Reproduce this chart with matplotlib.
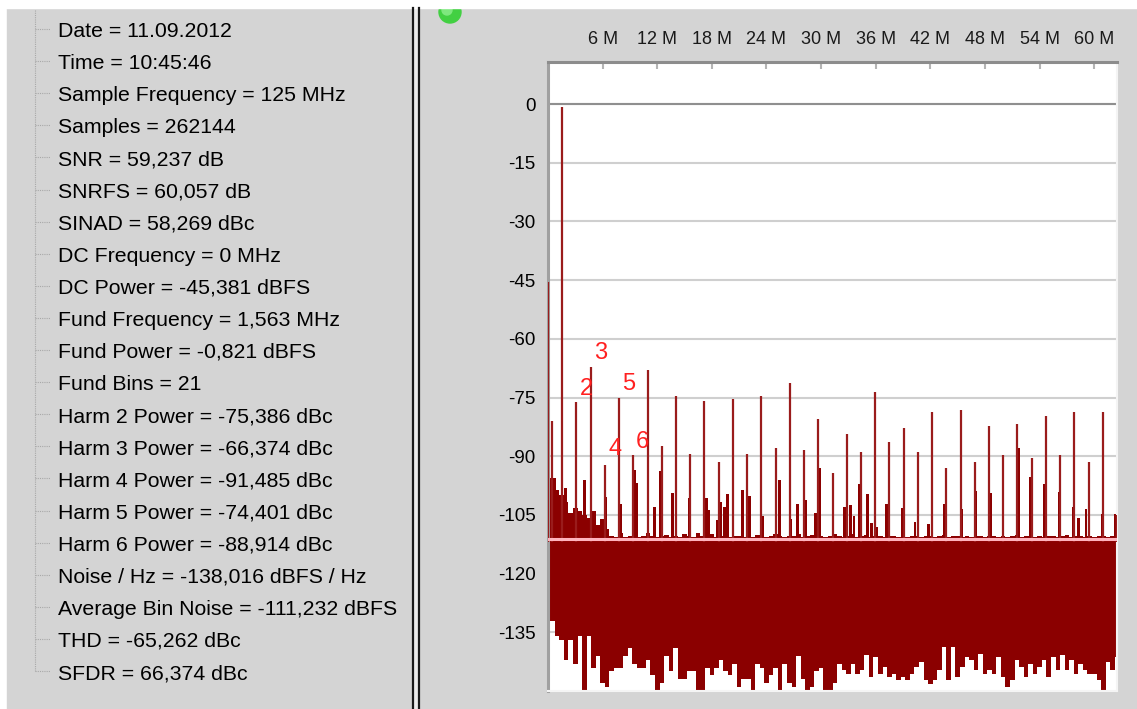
import matplotlib

matplotlib.use("Agg")
import matplotlib.pyplot as plt
import numpy as np
from matplotlib.patches import Circle, Rectangle

plt.rcParams["font.family"] = ["Liberation Sans", "DejaVu Sans"]

W, H = 1137, 709

# measurement summary shown in the tree view on the left
info_lines = [
    "Date = 11.09.2012",
    "Time = 10:45:46",
    "Sample Frequency = 125 MHz",
    "Samples = 262144",
    "SNR = 59,237 dB",
    "SNRFS = 60,057 dB",
    "SINAD = 58,269 dBc",
    "DC Frequency = 0 MHz",
    "DC Power = -45,381 dBFS",
    "Fund Frequency = 1,563 MHz",
    "Fund Power = -0,821 dBFS",
    "Fund Bins = 21",
    "Harm 2 Power = -75,386 dBc",
    "Harm 3 Power = -66,374 dBc",
    "Harm 4 Power = -91,485 dBc",
    "Harm 5 Power = -74,401 dBc",
    "Harm 6 Power = -88,914 dBc",
    "Noise / Hz = -138,016 dBFS / Hz",
    "Average Bin Noise = -111,232 dBFS",
    "THD = -65,262 dBc",
    "SFDR = 66,374 dBc",
]

tick_mhz = [6, 12, 18, 24, 30, 36, 42, 48, 54, 60]
tick_labels = ["6 M", "12 M", "18 M", "24 M", "30 M", "36 M", "42 M", "48 M", "54 M", "60 M"]
db_ticks = [0, -15, -30, -45, -60, -75, -90, -105, -120, -135]

avg_bin_noise_db = -111.232

# noise floor envelope, one value every 0.5 MHz from 0 to 62.5 MHz
grid_step_mhz = 0.5
floor_top_db = [
    -100.3, -95.6, -98.6, -99.9, -101.6, -104.6, -103.3, -104.0, -105.0, -105.8,
    -104.0, -107.5, -106.0, -108.5, -110.5, -110.6, -109.5, -110.6, -110.5, -109.8,
    -110.6, -110.5, -109.6, -110.4, -110.6, -110.5, -110.2, -110.6, -110.5, -110.6,
    -109.8, -110.5, -110.6, -109.7, -110.5, -110.4, -109.8, -110.6, -110.5, -110.2,
    -110.6, -110.5, -110.3, -110.6, -110.5, -110.6, -110.2, -110.5, -110.6, -110.4,
    -109.9, -110.5, -110.6, -110.4, -110.5, -109.8, -110.6, -110.5, -110.2, -110.6,
    -110.5, -110.6, -110.5, -109.9, -110.4, -110.6, -110.5, -109.8, -110.6, -110.5,
    -110.2, -110.6, -110.5, -110.4, -110.6, -110.5, -110.3, -110.6, -110.5, -110.6,
    -110.4, -110.5, -110.6, -110.3, -110.5, -110.6, -110.5, -110.2, -110.6, -110.5,
    -110.4, -110.6, -110.5, -110.6, -110.3, -110.5, -110.6, -110.5, -110.4, -110.6,
    -110.5, -110.6, -110.5, -110.2, -110.6, -110.5, -110.4, -110.6, -110.5, -110.6,
    -110.3, -110.5, -110.6, -110.5, -110.2, -110.6, -110.5, -110.4, -110.6, -110.5,
    -110.6, -110.5, -110.4, -110.6, -110.5, -110.6,
]
floor_bottom_db = [
    -132, -132, -136, -137, -142, -137, -143, -136, -150, -136,
    -144, -141, -148, -149, -145, -144, -144, -141, -139, -143,
    -144, -144, -142, -146, -150, -148, -141, -145, -139, -147,
    -147, -145, -145, -150, -150, -144, -146, -144, -142, -145,
    -146, -143, -149, -147, -147, -150, -143, -144, -148, -146,
    -144, -150, -143, -148, -149, -141, -147, -150, -149, -145,
    -144, -150, -150, -148, -143,
    -144.7, -145.6, -143.0, -145.6, -144.7, -140.9, -146.5, -141.3, -145.6, -143.9,
    -146.5, -145.6, -147.3, -146.5, -147.3, -145.6, -143.9, -142.6, -147.3, -148.2,
    -147.3, -144.7, -138.8, -147.3, -138.8, -146.5, -143.9, -141.3, -142.2, -144.7,
    -140.5, -145.6, -144.7, -145.6, -141.3, -146.5, -149.0, -147.3, -142.2, -143.9,
    -146.5, -143.0, -145.6, -143.9, -142.2, -146.5, -141.3, -144.7, -140.9, -144.7,
    -142.2, -145.6, -143.0, -144.7, -145.6, -145.6, -147.3, -150.0, -142.6, -144.7,
    -141.3,
]

# DC, fundamental, harmonics (aliased above Nyquist) and one low spur
spur_mhz = [
    0.05, 0.49, 1.56, 3.13, 4.69, 6.25, 7.81, 9.38, 10.94, 12.50,
    14.06, 15.63, 17.19, 18.75, 20.31, 21.88, 23.44, 25.00, 26.56, 28.13,
    29.69, 31.25, 32.81, 34.38, 35.94, 37.50, 39.06, 40.63, 42.19, 43.75,
    45.31, 46.88, 48.44, 50.00, 51.56, 53.13, 54.69, 56.25, 57.81, 59.38,
    60.94, 62.45,
]
spur_db = [
    -45.4, -81.0, -0.8, -76.2, -67.2, -92.3, -75.2, -89.7, -68.0, -87.5,
    -74.5, -89.4, -75.9, -91.4, -75.5, -89.4, -74.5, -87.9, -71.4, -88.3,
    -80.6, -94.3, -84.2, -88.9, -73.5, -86.4, -82.8, -88.9, -78.7, -93.0,
    -78.2, -91.5, -82.3, -89.6, -81.7, -90.5, -79.8, -89.6, -78.7, -91.5,
    -78.7, -105.0,
]

# smaller bins sticking out of the noise floor next to the spurs
side_mhz = [
    0.70, 1.00, 1.96, 3.98, 6.37, 7.95, 9.55, 9.70, 11.70, 12.30,
    13.70, 15.50, 17.40, 17.65, 18.60, 19.00, 19.40, 19.70, 21.40, 22.10,
    23.60, 25.40, 26.70, 27.40, 28.25, 29.40, 29.80, 32.60, 33.20, 33.60,
    34.20, 35.10, 35.50, 36.10, 37.20, 38.90, 40.30, 41.80, 43.50, 45.40,
    46.95, 48.60, 51.65, 53.00, 54.50, 56.20, 57.70, 58.30, 59.10, 60.90,
    62.30,
]
side_db = [
    -95.6, -98.6, -98.2, -96.0, -100.3, -102.2, -93.5, -96.9, -102.9, -93.9,
    -99.3, -100.7, -100.7, -103.7, -106.3, -101.7, -103.0, -99.7, -98.6, -100.1,
    -105.4, -96.2, -106.0, -102.2, -101.2, -104.4, -93.0, -102.9, -102.4, -105.4,
    -97.1, -99.7, -107.1, -108.0, -102.2, -103.3, -106.8, -107.2, -102.2, -103.6,
    -99.0, -99.4, -87.9, -95.2, -97.1, -99.2, -102.9, -105.8, -103.6, -104.8,
    -104.8,
]

harm_labels = ["2", "3", "4", "5", "6"]
harm_label_mhz = [4.18, 5.78, 7.32, 8.86, 10.41]
harm_label_db = [-72.9, -63.7, -88.2, -71.6, -86.3]

PANEL = "#d4d4d4"
DARK_RED = "#8b0000"

fig = plt.figure(figsize=(W / 100, H / 100), dpi=100, facecolor="white")

# window chrome drawn in pixel coordinates
bg = fig.add_axes([0, 0, 1, 1])
bg.set_xlim(0, W)
bg.set_ylim(H, 0)
bg.axis("off")
bg.add_patch(Rectangle((7, 8), W - 7, H - 8, color=PANEL, zorder=0))
bg.add_patch(Circle((450, 12), 11, color="#42d042", zorder=1))
bg.add_patch(Circle((447, 10), 5, color="#7ee87e", zorder=1))
bg.add_patch(Rectangle((0, 0), W, 8, color="white", zorder=2))
bg.add_patch(Rectangle((413, 8), 5, H - 8, color="#ececec", zorder=1))
bg.plot([412.5, 412.5], [8, H], color="#1a1a1a", lw=1.6, zorder=2)
bg.plot([418.5, 418.5], [8, H], color="#1a1a1a", lw=1.6, zorder=2)

row0, row_step = 37, 32.1
bg.plot([35, 35], [10, row0 + (len(info_lines) - 1) * row_step - 8],
        color="#a8a8a8", lw=0.8, ls=(0, (1, 1)), zorder=2)
for i, line in enumerate(info_lines):
    y = row0 + i * row_step
    bg.plot([35, 50], [y - 8, y - 8], color="#a8a8a8", lw=0.8, ls=(0, (1, 1)), zorder=2)
    bg.text(58, y, line, fontsize=15.3, color="black", va="baseline", ha="left", zorder=3)

# spectrum
ax = fig.add_axes([548 / W, 1 - 691 / H, (1117 - 548) / W, (691 - 62) / H])
ax.set_facecolor("white")
ax.set_xlim(0, 62.5)
ax.set_ylim(-150, 10.75)

freq = np.arange(len(floor_top_db)) * grid_step_mhz
ax.fill_between(freq, floor_bottom_db, floor_top_db, step="mid",
                color=DARK_RED, lw=0, zorder=2)
side_base = -111.5
ax.bar(side_mhz, np.array(side_db) - side_base, bottom=side_base, width=0.3,
       color=DARK_RED, lw=0, zorder=2)
ax.vlines(spur_mhz, -112, spur_db, colors="#9a1c1c", lw=1.6, zorder=3)
ax.axhline(avg_bin_noise_db, color="#ffb3bd", lw=2.2, zorder=4)
ax.axhline(0, color="#8f8f8f", lw=1.5, zorder=1)

for txt, x, y in zip(harm_labels, harm_label_mhz, harm_label_db):
    ax.text(x, y, txt, color="#ff2020", fontsize=17, ha="center", va="center", zorder=5)

ax.set_yticks(db_ticks)
ax.set_yticklabels([str(v) for v in db_ticks])
ax.tick_params(axis="y", length=0, pad=9, labelsize=13.5, colors="black")
ax.xaxis.tick_top()
ax.set_xticks(tick_mhz)
ax.set_xticklabels(tick_labels)
ax.tick_params(axis="x", direction="in", length=5, width=1.5, color="#b4b4b4",
               pad=10, labelsize=13, labelcolor="#1a1a1a")
ax.yaxis.grid(True, color="#cfcfcf", lw=1.5)
ax.set_axisbelow(True)

ax.spines["left"].set_color("#a0a0a0")
ax.spines["left"].set_linewidth(2.2)
ax.spines["top"].set_color("#8c8c8c")
ax.spines["top"].set_linewidth(2.2)
for side in ("right", "bottom"):
    ax.spines[side].set_color("#f4f4f4")
    ax.spines[side].set_linewidth(1.5)

fig.savefig("out.png", dpi=100, facecolor="white")
